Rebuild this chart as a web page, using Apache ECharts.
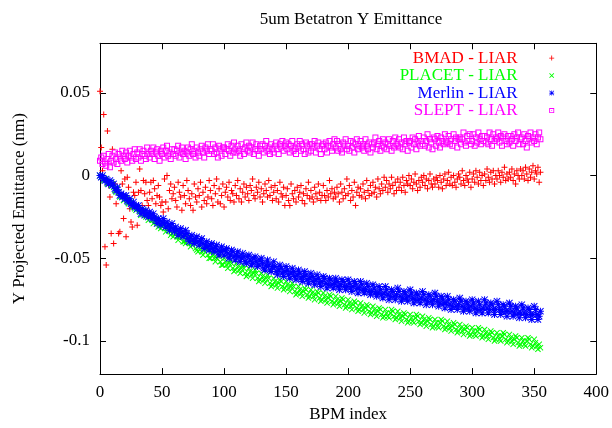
<!DOCTYPE html>
<html>
<head>
<meta charset="utf-8">
<script src="https://cdn.jsdelivr.net/npm/echarts@6/dist/echarts.min.js"></script>
<style>html,body{margin:0;padding:0;background:#fff}#c{width:612px;height:428px}</style>
</head>
<body>
<div id="c"></div>
<script>
const seriesNames = ['BMAD - LIAR', 'PLACET - LIAR', 'Merlin - LIAR', 'SLEPT - LIAR'];
const xTicks = [0, 50, 100, 150, 200, 250, 300, 350, 400];
const yTicks = [-0.1, -0.05, 0, 0.05];

const bmad = [
.051,.017,.003,.037,-.043,-.054,.027,-.006,-.013,-.035,
.016,-.041,-.005,-.017,-.010,-.035,-.034,.003,-.005,-.026,
-.002,-.037,-.001,-.007,-.020,-.028,-.031,-.010,-.012,-.004,
-.030,-.010,.004,-.009,-.018,-.003,-.011,-.004,-.015,-.018,
-.010,-.004,-.014,-.003,-.008,-.017,-.012,-.006,-.013,-.018,
-.016,-.022,-.002,-.016,.000,-.020,-.009,-.005,-.014,-.011,
-.007,-.015,-.019,-.004,-.010,-.013,-.021,-.006,-.012,-.017,
-.003,-.009,-.014,-.018,-.011,-.021,-.005,-.013,-.016,-.008,
-.012,-.004,-.019,-.010,-.015,-.007,-.017,-.013,-.003,-.009,
-.014,-.018,-.006,-.011,-.002,-.016,-.008,-.017,-.012,-.005,
-.019,-.010,-.007,-.013,-.004,-.015,-.009,-.011,-.016,-.006,
-.012,-.003,-.014,-.008,-.016,-.010,-.005,-.013,-.007,-.011,
-.015,-.006,-.009,-.002,-.012,-.014,-.007,-.010,-.004,-.013,
-.008,-.016,-.011,-.005,-.009,-.013,-.003,-.012,-.007,-.015,
-.010,-.006,-.014,-.009,-.016,-.004,-.011,-.013,-.007,-.018,
-.012,-.008,-.015,-.018,-.005,-.011,-.014,-.009,-.016,-.007,
-.013,-.010,-.006,-.015,-.011,-.017,-.008,-.012,-.004,-.014,
-.009,-.013,-.016,-.007,-.011,-.014,-.005,-.010,-.015,-.012,
-.006,-.012,-.015,-.009,-.013,-.003,-.011,-.008,-.014,-.010,
-.013,-.007,-.011,-.016,-.005,-.010,-.014,-.008,-.012,-.002,
-.011,-.006,-.015,-.009,-.013,-.004,-.018,-.010,-.007,-.012,
-.008,-.013,-.005,-.010,-.014,-.003,-.009,-.012,-.006,-.011,
-.004,-.010,-.007,-.013,-.002,-.008,-.011,-.005,-.009,-.001,
-.007,-.003,-.010,-.005,-.008,-.001,-.006,-.011,-.004,-.009,
-.002,-.007,-.004,-.009,-.001,-.006,-.010,-.003,-.005,.000,
-.006,-.002,-.008,-.004,.001,-.005,-.009,-.003,-.007,-.001,
-.004,.000,-.006,-.002,-.008,-.003,.001,-.005,-.007,-.002,
-.005,-.001,-.003,-.007,.000,-.004,-.008,-.002,.001,-.006,
-.003,.002,-.005,-.001,-.006,.000,-.004,-.007,-.002,.001,
-.001,-.005,.003,-.003,-.006,.000,-.002,-.004,.002,-.007,
-.002,.001,-.004,.003,-.001,-.005,.002,-.003,.000,-.006,
.001,-.003,.004,-.001,-.004,.002,-.002,.003,-.005,.000,
-.002,.003,.000,-.004,.002,-.001,.005,-.003,.001,-.002,
.002,-.001,.004,-.003,.001,-.005,.003,.000,-.002,.004,
.000,.003,-.002,.005,.001,-.003,.004,-.001,.002,.006,
-.002,.003,.001,.005,-.004,.002
];

const placet = [
0,-.001,-.001,-.003,-.002,-.003,-.005,-.004,-.004,-.006,
-.005,-.007,-.009,-.010,-.008,-.010,-.013,-.012,-.013,-.015,
-.013,-.014,-.016,-.017,-.015,-.016,-.019,-.018,-.020,-.021,
-.019,-.020,-.022,-.024,-.022,-.021,-.024,-.025,-.024,-.027,
-.024,-.025,-.027,-.029,-.027,-.026,-.029,-.031,-.030,-.032,
-.028,-.030,-.032,-.034,-.032,-.031,-.033,-.036,-.035,-.037,
-.033,-.035,-.037,-.039,-.037,-.035,-.037,-.040,-.040,-.041,
-.037,-.039,-.041,-.043,-.041,-.039,-.041,-.044,-.045,-.046,
-.042,-.044,-.046,-.048,-.045,-.043,-.045,-.048,-.050,-.050,
-.046,-.048,-.050,-.052,-.050,-.047,-.049,-.052,-.054,-.054,
-.050,-.052,-.054,-.056,-.053,-.051,-.053,-.056,-.058,-.057,
-.053,-.055,-.057,-.059,-.056,-.054,-.056,-.059,-.061,-.060,
-.056,-.058,-.060,-.062,-.059,-.057,-.059,-.062,-.064,-.063,
-.059,-.061,-.063,-.065,-.062,-.060,-.062,-.065,-.067,-.066,
-.062,-.064,-.066,-.068,-.065,-.063,-.064,-.067,-.069,-.068,
-.064,-.066,-.068,-.070,-.067,-.065,-.067,-.070,-.072,-.071,
-.067,-.069,-.071,-.073,-.070,-.068,-.069,-.072,-.074,-.073,
-.069,-.071,-.073,-.075,-.072,-.070,-.071,-.074,-.076,-.075,
-.071,-.073,-.075,-.077,-.074,-.072,-.073,-.076,-.078,-.077,
-.073,-.075,-.077,-.079,-.076,-.074,-.075,-.078,-.080,-.079,
-.075,-.077,-.079,-.081,-.078,-.076,-.077,-.080,-.082,-.081,
-.077,-.079,-.081,-.083,-.080,-.078,-.079,-.082,-.084,-.083,
-.079,-.081,-.083,-.085,-.082,-.080,-.081,-.084,-.086,-.085,
-.081,-.083,-.085,-.086,-.083,-.081,-.082,-.085,-.087,-.086,
-.082,-.084,-.086,-.088,-.085,-.083,-.084,-.087,-.089,-.088,
-.084,-.086,-.088,-.089,-.086,-.084,-.085,-.088,-.090,-.089,
-.085,-.087,-.089,-.091,-.088,-.086,-.087,-.090,-.092,-.091,
-.087,-.089,-.091,-.092,-.089,-.087,-.088,-.091,-.093,-.092,
-.088,-.090,-.092,-.094,-.091,-.089,-.090,-.093,-.095,-.094,
-.090,-.092,-.094,-.096,-.093,-.091,-.092,-.095,-.097,-.096,
-.092,-.094,-.096,-.097,-.094,-.092,-.093,-.096,-.098,-.097,
-.093,-.095,-.097,-.099,-.096,-.094,-.095,-.098,-.100,-.099,
-.095,-.097,-.099,-.100,-.097,-.095,-.096,-.099,-.101,-.100,
-.096,-.098,-.100,-.102,-.099,-.097,-.098,-.101,-.103,-.102,
-.098,-.100,-.102,-.103,-.100,-.098,-.099,-.102,-.104,-.103,
-.099,-.101,-.103,-.105,-.102,-.104
];

const merlin = [
0,-.001,0,-.002,-.003,-.002,-.004,-.005,-.003,-.004,
-.006,-.005,-.008,-.009,-.007,-.010,-.012,-.011,-.013,-.012,
-.014,-.012,-.015,-.016,-.014,-.017,-.018,-.016,-.019,-.018,
-.020,-.018,-.021,-.023,-.020,-.022,-.024,-.021,-.023,-.025,
-.022,-.024,-.026,-.023,-.025,-.027,-.029,-.026,-.027,-.030,
-.028,-.026,-.029,-.031,-.028,-.030,-.033,-.031,-.029,-.032,
-.034,-.031,-.033,-.036,-.035,-.032,-.034,-.037,-.036,-.033,
-.035,-.038,-.040,-.037,-.036,-.039,-.041,-.038,-.037,-.040,
-.042,-.039,-.038,-.041,-.044,-.042,-.040,-.043,-.045,-.042,
-.041,-.044,-.046,-.043,-.042,-.045,-.048,-.046,-.043,-.045,
-.048,-.045,-.044,-.047,-.050,-.048,-.045,-.046,-.049,-.051,
-.048,-.046,-.049,-.052,-.050,-.047,-.049,-.052,-.053,-.049,
-.048,-.051,-.054,-.053,-.050,-.049,-.052,-.055,-.054,-.051,
-.050,-.053,-.056,-.057,-.054,-.051,-.054,-.057,-.058,-.055,
-.052,-.055,-.058,-.060,-.057,-.054,-.056,-.059,-.061,-.058,
-.055,-.057,-.060,-.062,-.059,-.056,-.058,-.061,-.063,-.060,
-.057,-.059,-.062,-.064,-.061,-.058,-.060,-.063,-.065,-.062,
-.059,-.061,-.064,-.066,-.063,-.060,-.062,-.065,-.067,-.064,
-.061,-.062,-.065,-.068,-.066,-.062,-.063,-.066,-.068,-.065,
-.062,-.064,-.067,-.069,-.066,-.063,-.064,-.067,-.069,-.067,
-.063,-.065,-.068,-.070,-.067,-.064,-.065,-.068,-.071,-.068,
-.064,-.066,-.069,-.071,-.069,-.065,-.067,-.070,-.072,-.070,
-.066,-.068,-.071,-.073,-.071,-.067,-.069,-.072,-.074,-.071,
-.067,-.069,-.072,-.075,-.073,-.069,-.070,-.073,-.075,-.072,
-.068,-.070,-.073,-.076,-.074,-.070,-.071,-.074,-.076,-.073,
-.069,-.071,-.074,-.077,-.075,-.071,-.072,-.075,-.077,-.074,
-.070,-.072,-.075,-.078,-.076,-.072,-.073,-.076,-.078,-.075,
-.071,-.073,-.076,-.079,-.077,-.073,-.074,-.077,-.080,-.077,
-.073,-.075,-.078,-.081,-.079,-.075,-.076,-.079,-.081,-.078,
-.074,-.076,-.079,-.082,-.080,-.076,-.077,-.080,-.082,-.079,
-.075,-.077,-.080,-.083,-.081,-.076,-.078,-.081,-.083,-.080,
-.075,-.077,-.080,-.083,-.081,-.077,-.078,-.081,-.084,-.081,
-.076,-.078,-.081,-.084,-.082,-.078,-.079,-.082,-.085,-.082,
-.077,-.079,-.082,-.085,-.083,-.079,-.080,-.083,-.086,-.083,
-.078,-.080,-.083,-.086,-.084,-.080,-.081,-.084,-.087,-.084,
-.079,-.081,-.084,-.087,-.085,-.082
];

const slept = [
.009,.011,.007,.012,.008,.006,.010,.013,.005,.009,
.012,.008,.014,.010,.007,.013,.011,.009,.015,.012,
.010,.014,.008,.012,.015,.011,.009,.013,.016,.010,
.014,.011,.016,.009,.013,.015,.012,.010,.017,.013,
.011,.015,.013,.017,.010,.014,.016,.012,.009,.015,
.013,.017,.011,.015,.018,.012,.014,.010,.016,.013,
.016,.012,.015,.018,.011,.014,.017,.013,.015,.010,
.014,.017,.012,.016,.019,.013,.015,.011,.017,.014,
.012,.016,.018,.014,.011,.017,.015,.019,.013,.016,
.015,.019,.013,.017,.014,.011,.018,.016,.012,.017,
.017,.013,.016,.019,.015,.012,.018,.014,.020,.016,
.014,.018,.015,.012,.019,.016,.013,.017,.020,.015,
.018,.014,.017,.020,.013,.016,.019,.015,.012,.018,
.016,.019,.014,.018,.021,.015,.017,.013,.019,.016,
.014,.018,.020,.016,.013,.019,.017,.021,.015,.018,
.020,.016,.019,.014,.018,.021,.015,.017,.013,.019,
.017,.021,.015,.019,.016,.013,.020,.018,.014,.019,
.015,.019,.017,.021,.014,.018,.020,.016,.013,.018,
.019,.016,.020,.014,.018,.021,.017,.015,.019,.022,
.017,.021,.015,.019,.016,.014,.020,.018,.022,.016,
.018,.015,.021,.017,.020,.014,.019,.022,.016,.018,
.021,.017,.019,.015,.022,.018,.016,.020,.014,.019,
.017,.020,.023,.016,.019,.021,.015,.018,.022,.017,
.020,.016,.019,.022,.018,.015,.021,.017,.023,.019,
.018,.022,.017,.020,.016,.023,.019,.021,.015,.020,
.021,.017,.023,.019,.022,.016,.020,.024,.018,.021,
.019,.023,.018,.021,.025,.017,.022,.020,.016,.023,
.022,.018,.024,.020,.017,.023,.021,.019,.025,.020,
.020,.024,.019,.022,.018,.025,.021,.023,.017,.022,
.023,.019,.022,.026,.020,.018,.024,.021,.025,.019,
.021,.025,.018,.023,.020,.026,.022,.019,.024,.021,
.024,.020,.023,.019,.026,.022,.018,.025,.021,.023,
.022,.026,.020,.024,.018,.023,.025,.021,.019,.024,
.020,.024,.022,.018,.025,.021,.023,.026,.019,.022,
.023,.019,.025,.021,.017,.024,.022,.026,.020,.023,
.021,.025,.019,.023,.026,.022
];

const colors = ['#ff0000', '#00ff00', '#0000ff', '#ff00ff'];
const symPlus = 'path://M2.5,0H3.5V2.5H6V3.5H3.5V6H2.5V3.5H0V2.5H2.5Z';
const symCross = 'path://M0,0.7L0.7,0L3,2.3L5.3,0L6,0.7L3.7,3L6,5.3L5.3,6L3,3.7L0.7,6L0,5.3L2.3,3Z';
const symStar = 'path://M3,0H4V3H7V4H4V7H3V4H0V3H3Z M0,0.7L0.7,0L3.5,2.8L6.3,0L7,0.7L4.2,3.5L7,6.3L6.3,7L3.5,4.2L0.7,7L0,6.3L2.8,3.5Z';
const symBox = 'path://M0,0H6V6H0Z M1,1V5H5V1Z';
const symBoxDot = 'path://M0,0H6V6H0Z M1,1V5H5V1Z M2.5,2.5H3.5V3.5H2.5Z';
const symbols = [symPlus, symCross, symStar, symBox];
const sizes = [6, 6, 7, 6];
const valueSets = [bmad, placet, merlin, slept];

const FONT = 'Liberation Serif';
const chart = echarts.init(document.getElementById('c'), null, {renderer: 'canvas'});

const lineStyle = {color: '#000', width: 1};
const tickStyle = {show: true, inside: true, length: 6, lineStyle: {color: '#000'}};

chart.setOption({
  animation: false,
  backgroundColor: '#fff',
  title: {
    text: '5um Betatron Y Emittance',
    left: 346, top: 6.5, textAlign: 'center',
    textStyle: {fontFamily: FONT, fontSize: 17, fontWeight: 'normal', color: '#000'}
  },
  legend: {
    orient: 'vertical',
    align: 'right',
    right: 57.8, top: 49.3,
    padding: 0,
    itemGap: 0,
    itemWidth: 58,
    itemHeight: 5,
    symbolKeepAspect: true,
    textStyle: {fontFamily: FONT, fontSize: 17, lineHeight: 17.5},
    data: seriesNames.map((n, i) => ({
      name: n,
      icon: i === 3 ? symBoxDot : symbols[i],
      textStyle: {color: colors[i]}
    }))
  },
  grid: {left: 100, right: 15.5, top: 43.3, bottom: 52.3, containLabel: false},
  xAxis: [
    {
      type: 'value', min: 0, max: 400, interval: 50, position: 'bottom',
      axisLine: {show: true, onZero: false, lineStyle: lineStyle},
      axisTick: tickStyle, splitLine: {show: false},
      name: 'BPM index', nameLocation: 'middle', nameGap: 28,
      nameTextStyle: {fontFamily: FONT, fontSize: 17, color: '#000'},
      axisLabel: {fontFamily: FONT, fontSize: 17, color: '#000', margin: 10,
        customValues: xTicks}
    },
    {
      type: 'value', min: 0, max: 400, interval: 50, position: 'top',
      axisLine: {show: true, onZero: false, lineStyle: lineStyle},
      axisTick: tickStyle, splitLine: {show: false},
      axisLabel: {show: false}
    }
  ],
  yAxis: [
    {
      type: 'value', min: -0.12, max: 0.08, position: 'left',
      axisLine: {show: true, onZero: false, lineStyle: lineStyle},
      splitLine: {show: false},
      name: 'Y Projected Emittance (nm)', nameLocation: 'middle', nameGap: 72,
      nameTextStyle: {fontFamily: FONT, fontSize: 17, color: '#000'},
      axisTick: Object.assign({}, tickStyle, {customValues: yTicks}),
      axisLabel: {fontFamily: FONT, fontSize: 17, color: '#000', margin: 10,
        customValues: yTicks}
    },
    {
      type: 'value', min: -0.12, max: 0.08, position: 'right',
      axisLine: {show: true, onZero: false, lineStyle: lineStyle},
      splitLine: {show: false},
      axisTick: Object.assign({}, tickStyle, {customValues: yTicks}),
      axisLabel: {show: false, customValues: yTicks}
    }
  ],
  series: seriesNames.map((n, i) => ({
    name: n,
    type: 'scatter',
    xAxisIndex: 0, yAxisIndex: 0,
    symbol: symbols[i],
    symbolSize: sizes[i],
    symbolKeepAspect: true,
    itemStyle: {color: colors[i], opacity: 1},
    emphasis: {disabled: true},
    data: valueSets[i].map((v, k) => [k, v])
  }))
});
</script>
</body>
</html>
